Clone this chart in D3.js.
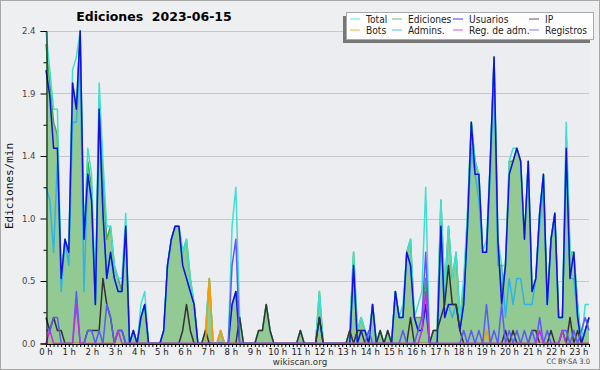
<!DOCTYPE html>
<html>
<head>
<meta charset="utf-8">
<script src="https://d3js.org/d3.v7.min.js"></script>
<style>
  body { margin: 0; background: #fff; }
  text { font-family: "DejaVu Sans", sans-serif; }
</style>
</head>
<body>
<svg id="chart"></svg>
<script>
// values in edits per minute, one per 10 minutes (6 per hour)
var hourLabels = d3.range(24).map(function(h) { return h + " h"; });
var yTicks = [0, 0.48, 0.96, 1.44, 1.92, 2.4];

var total = [
  2.4,2.1,1.8,1.8,0.5,0.8, 0.7,2.1,2.2,2.4,0.8,1.5, 1.3,0.4,2.0,1.4,0.9,0.9, 0.6,0.5,0.5,1.0,0,0.1,
  0,0.3,0.4,0,0,0, 0,0.1,0.6,0.8,0.9,0.9, 0.7,0.8,0.5,0.3,0,0, 0.1,0.5,0,0,0.1,0,
  0,0.9,1.2,0.2,0,0, 0,0,0.1,0.1,0.3,0.1, 0,0,0,0,0,0, 0,0.1,0,0,0,0,
  0.4,0,0,0,0,0, 0,0,0.1,0.7,0.1,0.2, 0.1,0,0.3,0,0.1,0, 0.1,0,0.4,0.2,0.3,0.7,
  0.8,0.2,0.3,0.4,1.2,0, 0.1,0.1,1.1,0.4,0.9,0.5, 0.7,0.2,0.5,1.0,1.7,1.4, 1.3,0.7,0.8,1.4,2.2,0.8,
  0.6,0.6,1.4,1.5,1.5,1.4, 0.8,1.4,0.4,0.5,1.0,1.3, 0.3,0.8,1.0,0.2,0.2,1.7, 0.7,0.7,0.3,0,0.3,0.3
];
var ediciones = [
  2.3,2.0,1.7,1.6,0.5,0.8, 0.7,2.0,1.8,2.4,0.8,1.4, 1.2,0.3,1.9,1.3,0.8,0.9, 0.6,0.5,0.4,0.9,0,0.1,
  0,0.2,0.3,0,0,0, 0,0.1,0.6,0.8,0.9,0.9, 0.7,0.8,0.5,0.3,0,0, 0.1,0.5,0,0,0.1,0,
  0,0.3,0.4,0.2,0,0, 0,0,0.1,0.1,0.3,0.1, 0,0,0,0,0,0, 0,0.1,0,0,0,0,
  0.4,0,0,0,0,0, 0,0,0.1,0.7,0.1,0.2, 0.1,0,0.3,0,0.1,0, 0.1,0,0.4,0.2,0.2,0.7,
  0.8,0.2,0.2,0.2,0.5,0, 0.1,0.1,1.1,0.4,0.9,0.5, 0.7,0.2,0.4,1.0,1.7,1.4, 1.3,0.7,0.7,1.4,2.2,0.8,
  0.4,0.6,1.4,1.4,1.5,1.4, 0.8,1.4,0.4,0.5,1.0,1.3, 0.3,0.8,1.0,0.2,0.2,1.6, 0.7,0.7,0.3,0,0.1,0.2
];
var usuarios = [
  2.1,1.9,1.5,1.5,0.5,0.8, 0.7,2.0,1.8,2.4,0.8,1.3, 1.1,0.3,1.8,1.0,0.5,0.7, 0.5,0.4,0.4,0.9,0,0.1,
  0,0.2,0.3,0,0,0, 0,0.1,0.6,0.8,0.9,0.9, 0.6,0.5,0.4,0.3,0,0, 0,0,0,0,0,0,
  0,0.3,0.4,0,0,0, 0,0,0,0,0,0, 0,0,0,0,0,0, 0,0,0,0,0,0,
  0.2,0,0,0,0,0, 0,0,0,0.6,0,0.1, 0.1,0,0.3,0,0,0, 0,0,0.4,0.2,0.2,0.7,
  0.6,0.2,0.1,0.1,0.3,0, 0,0,0.9,0.2,0.3,0.3, 0.3,0.1,0.3,0.9,1.7,1.3, 1.3,0.7,0.7,1.4,2.2,0.8,
  0.3,0.6,1.3,1.4,1.5,1.4, 0.8,1.4,0.4,0.5,1.0,1.3, 0.3,0.8,1.0,0.2,0.2,1.5, 0.5,0.7,0.2,0,0.1,0.2
];
var admins = [
  1.2,1.1,0.7,1.4,0.4,0.8, 0.6,1.7,1.7,2.2,0.4,1.3, 1.1,0.3,1.8,1.0,0.5,0.7, 0.5,0.4,0.4,0.9,0,0.1,
  0,0.2,0.3,0,0,0, 0,0.1,0.6,0.8,0.9,0.9, 0.6,0.5,0.4,0.3,0,0, 0,0,0,0,0,0,
  0,0,0,0,0,0, 0,0,0,0,0,0, 0,0,0,0,0,0, 0,0,0,0,0,0,
  0.2,0,0,0,0,0, 0,0,0,0.6,0,0.1, 0.1,0,0.3,0,0,0, 0,0,0.4,0.2,0.2,0.7,
  0.6,0.2,0.1,0.1,0.3,0, 0,0,0.9,0.2,0.3,0.2, 0.3,0.1,0.3,0.9,1.5,1.3, 1.1,0.7,0.7,1.3,2.1,0.6,
  0.6,0.2,0.5,0.3,0.5,0.5, 0.3,0.3,0.3,0.5,0.9,1.2, 0.3,0.8,1.0,0.2,0.2,1.4, 0.5,0.5,0.2,0,0.1,0.2
];
var ip = [
  0.2,0.1,0.2,0.1,0.1,0, 0,0,0,0,0,0.1, 0.1,0.1,0.1,0.5,0.3,0.2, 0,0.1,0.1,0,0,0,
  0,0,0,0,0,0, 0,0,0,0,0,0, 0.1,0.3,0.1,0,0,0, 0.1,0,0,0,0,0,
  0,0,0,0.2,0,0, 0,0,0.1,0.1,0.3,0.1, 0,0,0,0,0,0, 0,0.1,0,0,0,0,
  0.2,0,0,0,0,0, 0,0,0.1,0,0.1,0.1, 0,0,0,0,0.1,0, 0.1,0,0,0,0,0,
  0.2,0,0,0,0,0, 0.1,0.1,0.2,0.3,0.6,0.3, 0.3,0.1,0,0,0,0, 0,0,0,0,0,0,
  0,0.1,0,0.1,0,0, 0,0,0.1,0.1,0,0, 0,0.1,0,0,0.1,0, 0.2,0,0.1,0,0,0
];
var bots = [
  0,0,0,0,0,0, 0,0,0,0,0,0, 0,0,0,0,0,0, 0,0,0,0,0,0,
  0,0,0,0,0,0, 0,0,0,0,0,0, 0,0,0,0,0,0, 0,0.5,0,0,0.1,0,
  0,0,0,0,0,0, 0,0,0,0,0,0, 0,0,0,0,0,0, 0,0,0,0,0,0,
  0,0,0,0,0,0, 0,0,0,0,0,0, 0,0,0,0,0,0, 0,0,0,0,0,0,
  0,0,0,0,0,0, 0,0,0,0,0,0, 0,0,0,0,0,0, 0,0,0.1,0,0,0,
  0,0,0,0,0,0, 0,0,0,0,0,0, 0,0,0,0,0,0, 0,0,0,0,0,0
];
var regAdm = [
  0,0.1,0,0,0,0, 0,0,0.3,0,0,0, 0,0,0,0,0,0, 0,0.1,0,0,0,0,
  0,0,0,0,0,0, 0,0,0,0,0,0, 0,0,0,0,0,0, 0,0,0,0,0,0,
  0,0,0,0,0,0, 0,0,0,0,0,0, 0,0,0,0,0,0, 0,0,0,0,0,0,
  0,0,0,0,0,0, 0,0,0,0,0,0, 0,0,0,0,0,0, 0,0,0,0,0,0,
  0,0,0,0.1,0.4,0, 0,0,0,0,0,0, 0,0,0,0,0,0, 0,0,0,0,0,0,
  0,0,0,0,0,0, 0,0,0,0,0.1,0, 0,0,0,0,0.1,0, 0,0,0,0,0,0
];
var registros = [
  0.1,0.1,0.2,0.2,0,0, 0,0,0.4,0,0,0.1, 0.1,0,0.1,0,0.3,0.2, 0,0.1,0.1,0,0,0,
  0,0,0,0,0,0, 0,0,0,0,0,0, 0,0,0,0,0,0, 0,0,0,0,0,0,
  0,0.6,0.8,0,0,0, 0,0,0,0,0,0, 0,0,0,0,0,0, 0,0,0,0,0,0,
  0,0,0,0,0,0, 0,0,0,0,0,0, 0,0.1,0,0,0,0, 0,0,0,0,0.1,0,
  0,0,0.1,0.2,0.7,0, 0,0,0,0,0,0, 0,0,0.1,0,0.1,0, 0.1,0,0.3,0,0.1,0,
  0.3,0,0.1,0,0.1,0, 0.1,0,0.1,0,0.2,0, 0.1,0,0,0,0.1,0.1, 0,0.1,0,0.1,0.2,0.1
];

var legendNames = ["Total", "Ediciones", "Usuarios", "IP", "Bots", "Admins.", "Reg. de adm.", "Registros"];
var legendColors = ["#40e0d0", "#44b044", "#1010e0", "#333333", "#ff9900", "#30b4e4", "#c030e0", "#5a5aff"];

var width = 600, height = 370;
var svg = d3.select("#chart").attr("width", width).attr("height", height);

// narrow text: DejaVu Sans squeezed horizontally
function narrowText(parent, px, py, str, size, sx, anchor) {
  return parent.append("text")
    .attr("transform", "translate(" + px + "," + py + ") scale(" + sx + ",1)")
    .attr("text-anchor", anchor || "start")
    .attr("font-size", size)
    .text(str);
}

svg.append("rect").attr("x", 0.5).attr("y", 0.5).attr("width", width - 1).attr("height", height - 1)
   .attr("fill", "#eeeff1").attr("stroke", "#a8a8a8");

var x = d3.scaleLinear().domain([0, 143]).range([46, 589]);
var y = d3.scaleLinear().domain([0, 2.4]).range([343.5, 31]);
var xLabel = d3.scaleLinear().domain([0, 23]).range([46, 579]);

// plot background
svg.append("rect").attr("x", x(0)).attr("y", y(2.4)).attr("width", x(143) - x(0)).attr("height", y(0) - y(2.4))
   .attr("fill", "#ecedf0");

// grid
svg.append("g").selectAll("line").data(yTicks.slice(1)).join("line")
   .attr("x1", x(0)).attr("x2", x(143))
   .attr("y1", function(d) { return Math.round(y(d)) + 0.5; })
   .attr("y2", function(d) { return Math.round(y(d)) + 0.5; })
   .attr("stroke", "#c8c8c8");

var area = d3.area().x(function(d, i) { return x(i); }).y0(y(0)).y1(function(d) { return y(d); });
var line = d3.line().x(function(d, i) { return x(i); }).y(function(d) { return y(d); });

svg.append("path").datum(ediciones).attr("d", area).attr("fill", "#93c993");

var series = [
  [ediciones, legendColors[1]],
  [total, legendColors[0]],
  [admins, legendColors[5]],
  [usuarios, legendColors[2]],
  [ip, legendColors[3]],
  [bots, legendColors[4]],
  [registros, legendColors[7]],
  [regAdm, legendColors[6]]
];
series.forEach(function(s) {
  svg.append("path").datum(s[0]).attr("d", line)
     .attr("fill", "none").attr("stroke", s[1]).attr("stroke-width", 1.5)
     .attr("stroke-linejoin", "round");
});

// y axis, major and minor ticks
var yAxis = svg.append("g").attr("transform", "translate(46.5,0)")
   .call(d3.axisLeft(y).tickValues(yTicks).tickSize(6).tickPadding(5).tickFormat(d3.format(".1f")));
yAxis.selectAll("text").attr("font-size", 8.5).attr("fill", "#444");
svg.append("g").attr("transform", "translate(46.5,0)")
   .call(d3.axisLeft(y).tickValues(yTicks.slice(1).map(function(d) { return d - 0.24; })).tickSize(3).tickFormat(""))
   .select(".domain").remove();

// x axis: one tick per 10 minutes
svg.append("g").attr("transform", "translate(0," + (y(0) + 0.5) + ")")
   .call(d3.axisBottom(x).tickValues(d3.range(144)).tickSize(3).tickSizeOuter(0).tickFormat(""));
svg.selectAll(".domain").attr("stroke", "#000");
svg.selectAll(".tick line").attr("stroke", "#000");

var hl = svg.append("g").attr("fill", "#222");
hourLabels.forEach(function(d, i) { narrowText(hl, xLabel(i), 354.5, d, 9.5, 0.9, "middle"); });

// titles
svg.append("text").attr("x", 154).attr("y", 21).attr("text-anchor", "middle")
   .attr("font-size", 12.5).attr("font-weight", "bold").style("white-space", "pre")
   .text("Ediciones  2023-06-15");

svg.append("text").attr("transform", "translate(13,186) rotate(-90)").attr("text-anchor", "middle")
   .style("font-family", "'DejaVu Sans Mono', monospace")
   .attr("font-size", 11).attr("fill", "#111").text("Ediciones/min");

narrowText(svg, 300, 365, "wikiscan.org", 9.5, 0.92, "middle").attr("fill", "#333");
narrowText(svg, 590, 364, "CC BY-SA 3.0", 7.5, 0.9, "end").attr("fill", "#444");

// legend
var lg = svg.append("g");
lg.append("rect").attr("x", 343).attr("y", 16).attr("width", 247).attr("height", 27).attr("fill", "#777");
lg.append("rect").attr("x", 346.5).attr("y", 12.5).attr("width", 247).attr("height", 27)
  .attr("fill", "#fff").attr("stroke", "#aaa");
var colX = [366, 408, 469, 545];
legendNames.forEach(function(name, i) {
  var cx = colX[i % 4], cy = i < 4 ? 19 : 30;
  lg.append("line").attr("x1", cx - 16).attr("x2", cx - 6).attr("y1", cy).attr("y2", cy)
    .attr("stroke", legendColors[i]).attr("stroke-width", 1).attr("opacity", 0.8);
  narrowText(lg, cx, cy + 3.5, name, 10.5, 0.87).attr("fill", "#222");
});
</script>
</body>
</html>
